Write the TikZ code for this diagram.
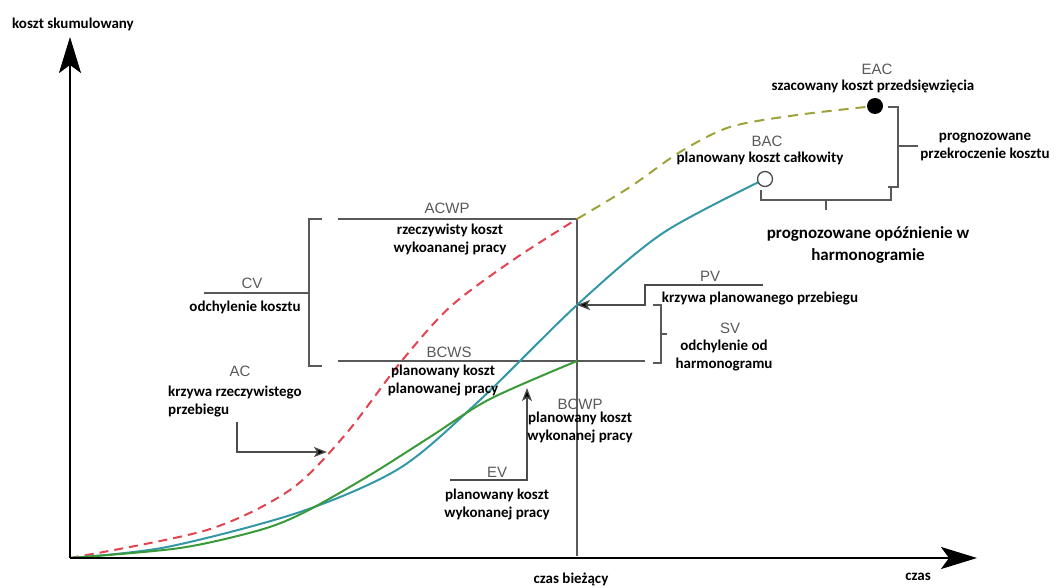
\documentclass[tikz,border=0pt]{standalone}
\usepackage{fontspec}
\setmainfont{Carlito}
\newfontfamily\arialfont{Liberation Sans}
\usetikzlibrary{arrows.meta}

\definecolor{acred}{HTML}{E2434F}
\definecolor{eacolive}{HTML}{9DA33A}
\definecolor{pvteal}{HTML}{3497A6}
\definecolor{evgreen}{HTML}{3A9A3A}

\tikzset{
  lbl/.style={font=\fontsize{15}{18}\selectfont\bfseries, align=center, inner sep=0pt},
  tag/.style={font=\arialfont\fontsize{15}{18}\selectfont, text=black!65, inner sep=0pt},
  gline/.style={draw=black!65, line width=1.3pt},
  axis/.style={line width=2.5pt, -{Stealth[length=36pt, width=22pt, inset=8pt]}},
  pointer/.style={draw=black!70, line width=1.3pt, -{Stealth[length=13pt, width=10pt, inset=3pt, fill=black]}},
  curve/.style={line width=2pt, smooth}
}

\begin{document}
\begin{tikzpicture}[x=1pt, y=-1pt]
\useasboundingbox (0,0) rectangle (1059,588);
\coordinate (O) at (70,558);
\coordinate (Y) at (70,37);
\coordinate (X) at (977,558);
\coordinate (A) at (577,219);
\coordinate (P) at (577,305);
\coordinate (E) at (577,361);
\coordinate (T) at (577,556);
\coordinate (Bc) at (765,179);
\coordinate (Ec) at (875,106);

\draw[gline] (A) -- (T);
\draw[gline] (338,219) -- (A);
\draw[gline] (338,361) -- (645,361);
\draw[gline] (322,219) -- (309,219) -- (309,366) -- (322,366);
\draw[gline] (204,293) -- (309,293);
\draw[gline] (653,305) -- (661,305) -- (661,363) -- (653,363);
\draw[gline] (661,334) -- (667,334);
\draw[gline] (888,107) -- (898,107) -- (898,187) -- (888,187);
\draw[gline] (898,146) -- (918,146);
\draw[gline] (761,190) -- (761,200) -- (891,200) -- (891,188);
\draw[gline] (826,200) -- (826,210);

\draw[curve, acred, dash pattern=on 9pt off 6pt] plot coordinates {(O) (207,530) (290,490) (345,435) (400,363) (450,307) (513,260) (A)};
\draw[curve, eacolive, dash pattern=on 10pt off 7pt] plot coordinates {(A) (630,187) (680,152) (730,127) (797,115) (Ec)};
\draw[curve, pvteal] plot coordinates {(O) (167,547) (300,512) (400,468) (480,400) (P) (663,233) (Bc)};
\draw[curve, evgreen] plot coordinates {(O) (180,548) (260,530) (305,512) (370,475) (430,437) (490,399) (E)};

\draw[axis] (O) -- (Y);
\draw[axis] (O) -- (X);

\node[circle, fill=black, minimum size=16pt, inner sep=0pt] (EAC) at (Ec) {};
\node[circle, draw=black!70, fill=white, line width=1.3pt, minimum size=15pt, inner sep=0pt] (BAC) at (Bc) {};

\coordinate (ac0) at (237,422);
\coordinate (ac1) at (327,452);
\draw[pointer] (ac0) |- (ac1);
\coordinate (pv0) at (763,285);
\draw[pointer] (pv0) -- (645,285) -- (645,305) -- (P);
\coordinate (ev0) at (450,480);
\coordinate (ev1) at (527,388);
\draw[pointer] (ev0) -| (ev1);

\node[lbl] (yl) at (73,24) {koszt skumulowany};
\node[lbl] (cb) at (571,579) {czas bieżący};
\node[lbl] (xl) at (918,577) {czas};
\node[tag] (tEAC) at (877,69) {EAC};
\node[lbl] (dEAC) at (873,86) {szacowany koszt przedsięwzięcia};
\node[tag] (tBAC) at (767,141) {BAC};
\node[lbl] (dBAC) at (760,158) {planowany koszt całkowity};
\node[lbl] (over) at (985,147) {prognozowane\\przekroczenie kosztu};
\node[lbl, font=\fontsize{17}{22}\selectfont\bfseries] (late) at (868,245) {prognozowane opóźnienie w\\harmonogramie};
\node[tag] (tACWP) at (447,208) {ACWP};
\node[lbl] (dACWP) at (450,240) {rzeczywisty koszt\\wykoananej pracy};
\node[tag] (tCV) at (252,283) {CV};
\node[lbl] (dCV) at (245,307) {odchylenie kosztu};
\node[tag] (tBCWS) at (449,352) {BCWS};
\node[lbl] (dBCWS) at (443,381) {planowany koszt\\planowanej pracy};
\node[tag] (tPV) at (710,276) {PV};
\node[lbl] (dPV) at (760,299) {krzywa planowanego przebiegu};
\node[tag] (tSV) at (730,328) {SV};
\node[lbl] (dSV) at (724,356) {odchylenie od\\harmonogramu};
\node[tag] (tAC) at (240,371) {AC};
\node[lbl, align=left, anchor=west] (dAC) at (168,402) {krzywa rzeczywistego\\przebiegu};
\node[tag] (tBCWP) at (580,404) {BCWP};
\node[lbl] (dBCWP) at (580,428) {planowany koszt\\wykonanej pracy};
\node[tag] (tEV) at (497,472) {EV};
\node[lbl] (dEV) at (497,504) {planowany koszt\\wykonanej pracy};
\end{tikzpicture}
\end{document}
